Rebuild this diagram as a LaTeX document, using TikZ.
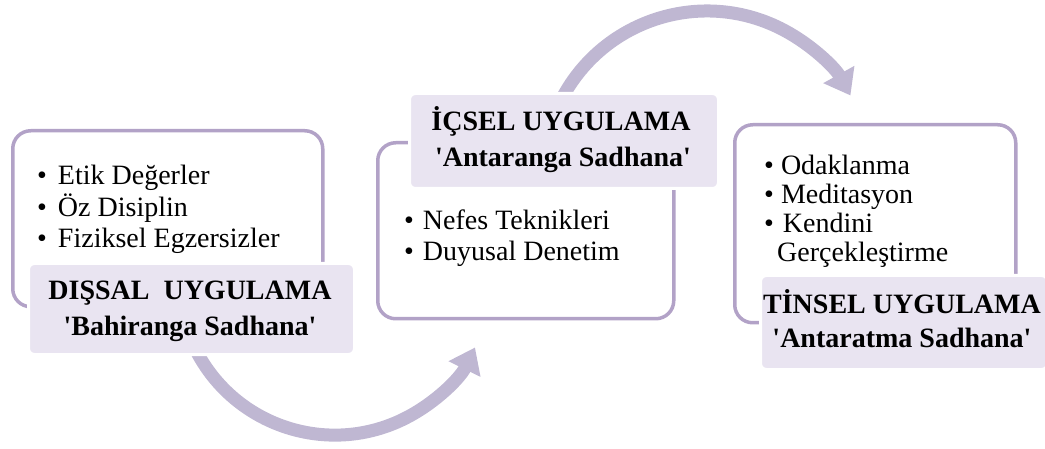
\documentclass[tikz,border=0pt]{standalone}
\usepackage{fontspec}
\setmainfont{Liberation Serif}[Ligatures=TeXOff]
\usetikzlibrary{arrows.meta}
\definecolor{outl}{RGB}{178,162,199}
\definecolor{arr}{RGB}{191,183,210}
\definecolor{lab}{RGB}{233,228,241}
\begin{document}
\begin{tikzpicture}[x=1pt,y=-1pt,
  outline/.style={draw=outl,line width=3.5pt,rounded corners=18pt,anchor=north west,inner sep=0pt},
  labelbox/.style={fill=lab,draw=white,line width=3pt,rounded corners=6pt,anchor=north west,inner sep=0pt},
  flow/.style={draw=arr,line width=13pt,-{Triangle[width=34pt,length=24pt]}},
  bul/.style={anchor=base west,inner sep=0pt,font=\fontsize{28}{32}\selectfont},
  ttl/.style={anchor=base,inner sep=0pt,font=\bfseries\fontsize{28}{32}\selectfont}]
\useasboundingbox (0,0) rectangle (1045,449);

% flow arrows
\coordinate (c1) at (333,280);
\coordinate (c2) at (707,175);
\draw[flow] (c1) ++(153:154) coordinate (a1s) arc[start angle=153,end angle=26,radius=156];
\draw[flow] (c2) ++(-152:164) coordinate (a2s) arc[start angle=-152,end angle=-29,radius=164];

% outline boxes
\node[outline,minimum width=310pt,minimum height=176pt] (b1) at (11,129) {};
\node[outline,minimum width=296pt,minimum height=176pt] (b2) at (376,141) {};
\node[outline,minimum width=281pt,minimum height=198pt] (b3) at (733,123) {};

% label boxes
\node[labelbox,minimum width=326pt,minimum height=91pt] (l1) at (27,262) {};
\node[labelbox,minimum width=309pt,minimum height=95pt] (l2) at (408,92) {};
\node[labelbox,minimum width=287pt,minimum height=94pt] (l3) at (759,274) {};

% box 1 bullets
\node[bul] (p11) at (37,185) {•\hspace{11pt}Etik Değerler};
\node[bul] (p12) at (37,217) {•\hspace{11pt}Öz Disiplin};
\node[bul] (p13) at (37,248) {•\hspace{11pt}Fiziksel Egzersizler};

% box 2 bullets
\node[bul] (p21) at (404,230) {•\hspace{9pt}Nefes Teknikleri};
\node[bul] (p22) at (404,261) {•\hspace{9pt}Duyusal Denetim};

% box 3 bullets
\node[bul] (p31) at (764,175) {•\hspace{7pt}Odaklanma};
\node[bul] (p32) at (764,204) {•\hspace{7pt}Meditasyon};
\node[bul] (p33) at (764,233) {•\hspace{9pt}Kendini};
\node[bul] (p34) at (777,262) {Gerçekleştirme};

% titles
\node[ttl] (t1a) at (190,300) {DIŞSAL\hspace{7pt} UYGULAMA};
\node[ttl] (t1b) at (190,335) {'Bahiranga Sadhana'};
\node[ttl] (t2a) at (561,131) {İÇSEL UYGULAMA};
\node[ttl] (t2b) at (563,167) {'Antaranga Sadhana'};
\node[ttl] (t3a) at (902,313) {TİNSEL UYGULAMA};
\node[ttl] (t3b) at (902,348) {'Antaratma Sadhana'};
\end{tikzpicture}
\end{document}
